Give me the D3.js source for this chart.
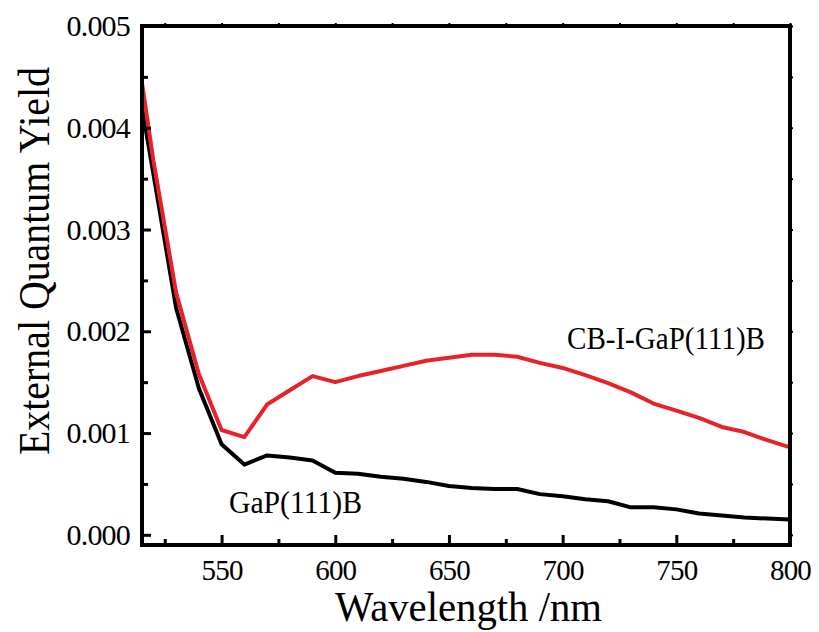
<!DOCTYPE html>
<html>
<head>
<meta charset="utf-8">
<script src="https://cdn.jsdelivr.net/npm/d3@7"></script>
<style>
  html, body { margin: 0; padding: 0; background: #fff; }
  svg { display: block; font-family: "Liberation Serif", "Times New Roman", serif; }
</style>
</head>
<body>
<svg id="chart" width="819" height="632"></svg>
<script>
// Wavelength samples (nm)
const wavelength = [515, 520, 530, 540, 550, 560, 570, 580, 590, 600, 610, 620, 630, 640, 650,
  660, 670, 680, 690, 700, 710, 720, 730, 740, 750, 760, 770, 780, 790, 800];

// External quantum yield, bare GaP(111)B
const gapValues = [0.0042, 0.00355, 0.00223, 0.00144, 0.00089, 0.00069, 0.00078, 0.00076, 0.00073, 0.00061,
  0.00060, 0.00057, 0.00055, 0.00052, 0.00048, 0.00046, 0.00045, 0.00045, 0.00040, 0.00038,
  0.00035, 0.00033, 0.00027, 0.00027, 0.00025, 0.00021, 0.00019, 0.00017, 0.00016, 0.00015];

// External quantum yield, CB-I-GaP(111)B
const cbValues = [0.00444, 0.00368, 0.00238, 0.00158, 0.00103, 0.00096, 0.00128, 0.00142, 0.00156, 0.00150,
  0.00156, 0.00161, 0.00166, 0.00171, 0.00174, 0.00177, 0.00177, 0.00175, 0.00169, 0.00164,
  0.00157, 0.00149, 0.00140, 0.00129, 0.00122, 0.00115, 0.00106, 0.00101, 0.00093, 0.00086];

const xTickValues = [550, 600, 650, 700, 750, 800];
const xMinorTicks = [525, 575, 625, 675, 725, 775];
const yTickValues = [0.000, 0.001, 0.002, 0.003, 0.004, 0.005];
const yMinorTicks = [0.0005, 0.0015, 0.0025, 0.0035, 0.0045];

const svg = d3.select("#chart");
const plotLeft = 142, plotRight = 790, plotTop = 26, plotBottom = 545;

const x = d3.scaleLinear().domain([515, 800]).range([plotLeft, plotRight]);
const y = d3.scaleLinear().domain([-0.0001, 0.005]).range([plotBottom, plotTop]);

const black = "#000000";
const red = "#e6232a";
const serif = "Liberation Serif, Times New Roman, serif";

// Data curves
const line = d3.line().x(d => x(d[0])).y(d => y(d[1]));
const seriesList = [
  { values: gapValues, color: black },
  { values: cbValues, color: red }
];
seriesList.forEach(s => {
  svg.append("path")
    .datum(wavelength.map((w, i) => [w, s.values[i]]))
    .attr("fill", "none")
    .attr("stroke", s.color)
    .attr("stroke-width", 4)
    .attr("stroke-linejoin", "round")
    .attr("d", line);
});

// Bottom axis: inward ticks with labels
const xAxis = d3.axisBottom(x).tickValues(xTickValues).tickSize(-10).tickPadding(14)
  .tickFormat(d3.format("d"));
const gx = svg.append("g").attr("transform", `translate(0,${plotBottom})`).call(xAxis);
gx.selectAll(".tick line").attr("stroke-width", 3);
gx.selectAll("text").attr("font-size", 29).attr("fill", black).attr("font-family", serif)
  .attr("letter-spacing", -0.8);
gx.select(".domain").remove();
svg.append("g").attr("transform", `translate(0,${plotBottom})`)
  .call(d3.axisBottom(x).tickValues(xMinorTicks).tickSize(-6).tickFormat(""))
  .call(g => g.select(".domain").remove())
  .selectAll(".tick line").attr("stroke-width", 3);

// Left axis: inward ticks with labels
const yAxis = d3.axisLeft(y).tickValues(yTickValues).tickSize(-9).tickPadding(12)
  .tickFormat(d3.format(".3f"));
const gy = svg.append("g").attr("transform", `translate(${plotLeft},0)`).call(yAxis);
gy.selectAll(".tick line").attr("stroke-width", 3);
gy.selectAll("text").attr("font-size", 30).attr("fill", black).attr("font-family", serif)
  .attr("letter-spacing", -0.8);
gy.select(".domain").remove();
svg.append("g").attr("transform", `translate(${plotLeft},0)`)
  .call(d3.axisLeft(y).tickValues(yMinorTicks).tickSize(-6).tickFormat(""))
  .call(g => g.select(".domain").remove())
  .selectAll(".tick line").attr("stroke-width", 3);

// Top and right axes: short outward ticks, no labels
svg.append("g").attr("transform", `translate(0,${plotTop})`)
  .call(d3.axisTop(x).tickValues(xTickValues.concat(xMinorTicks)).tickSize(3).tickFormat(""))
  .call(g => g.select(".domain").remove())
  .selectAll(".tick line").attr("stroke-width", 2);
svg.append("g").attr("transform", `translate(${plotRight},0)`)
  .call(d3.axisRight(y).tickValues(yTickValues.concat(yMinorTicks)).tickSize(3).tickFormat(""))
  .call(g => g.select(".domain").remove())
  .selectAll(".tick line").attr("stroke-width", 2);

// Frame
svg.append("rect")
  .attr("x", plotLeft).attr("y", plotTop)
  .attr("width", plotRight - plotLeft).attr("height", plotBottom - plotTop)
  .attr("fill", "none").attr("stroke", black).attr("stroke-width", 4);

// Axis titles
svg.append("text")
  .attr("x", 335).attr("y", 621)
  .attr("font-size", 42)
  .attr("textLength", 267)
  .attr("lengthAdjust", "spacingAndGlyphs")
  .text("Wavelength /nm");

svg.append("text")
  .attr("transform", "translate(49,455) rotate(-90)")
  .attr("font-size", 45)
  .attr("textLength", 388)
  .attr("lengthAdjust", "spacingAndGlyphs")
  .text("External Quantum Yield");

// Series labels
svg.append("text")
  .attr("x", 229).attr("y", 513)
  .attr("font-size", 31)
  .attr("textLength", 133)
  .attr("lengthAdjust", "spacingAndGlyphs")
  .text("GaP(111)B");

svg.append("text")
  .attr("x", 567).attr("y", 349)
  .attr("font-size", 32)
  .attr("textLength", 198)
  .attr("lengthAdjust", "spacingAndGlyphs")
  .text("CB-I-GaP(111)B");
</script>
</body>
</html>
